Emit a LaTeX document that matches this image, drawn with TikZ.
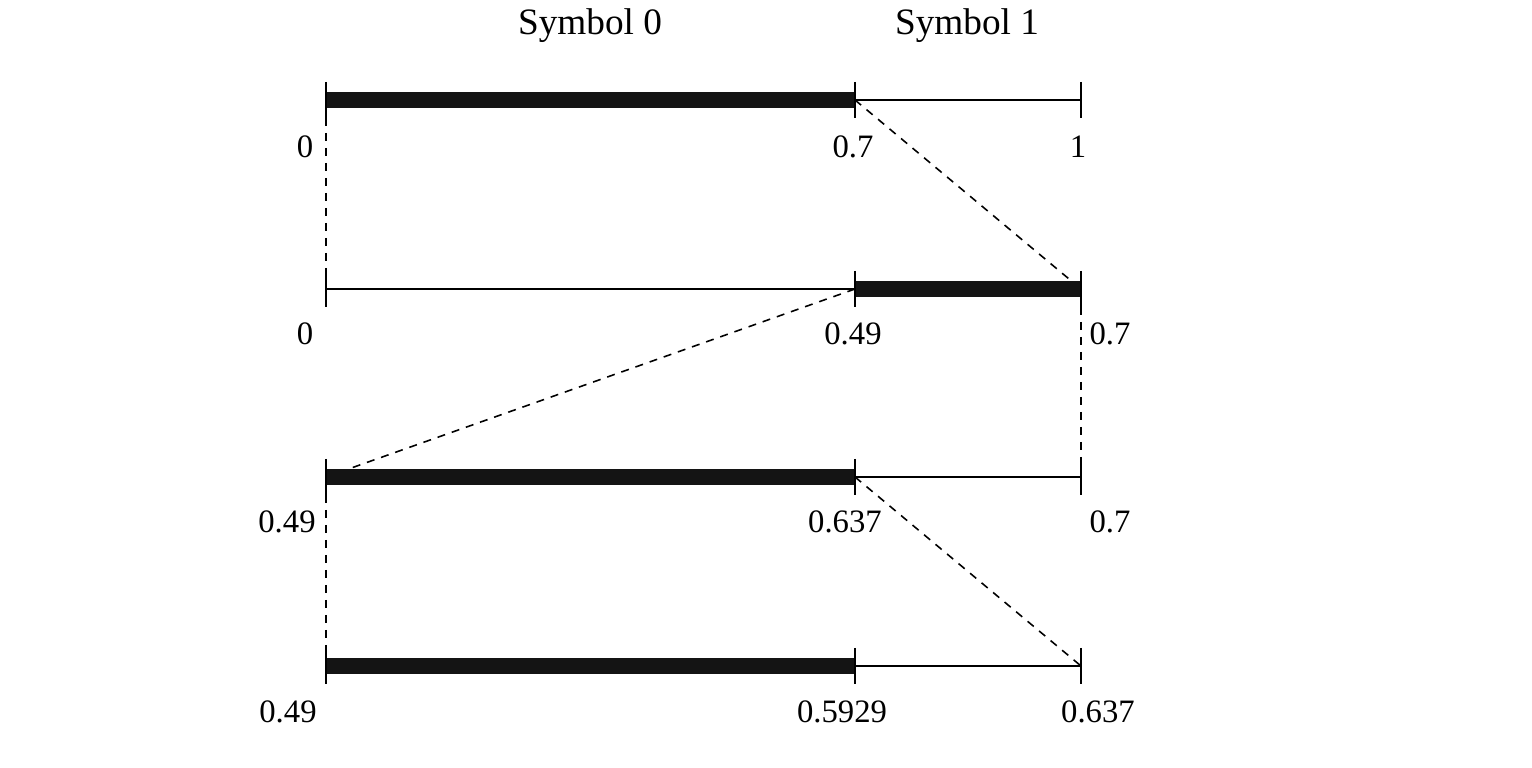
\documentclass[tikz,border=0pt]{standalone}
\usepackage{fontspec}
\setmainfont{Liberation Serif}
\usetikzlibrary{calc}
\tikzset{bar/.style={line width=1.6mm,line cap=butt,black!92}}
\tikzset{rest/.style={line width=0.55pt}}
\tikzset{tick/.style={line width=0.75pt}}
\tikzset{link/.style={line width=0.45pt,dash pattern=on 0.8mm off 0.7mm}}
\tikzset{lbl/.style={anchor=base,inner sep=0pt,font=\fontsize{9.3}{11}\selectfont}}
\tikzset{head/.style={lbl,font=\fontsize{10.6}{12}\selectfont}}

\begin{document}
\begin{tikzpicture}
    \useasboundingbox (0,0) rectangle (15.32,7.68);

    % Interval end points, one row per step
    \foreach \r/\y in {a/6.68,b/4.79,c/2.91,d/1.02} {
      \coordinate (\r L) at (3.26,\y);
      \coordinate (\r M) at (8.55,\y);
      \coordinate (\r R) at (10.81,\y);
    }

    % Dashed links between rows
    \draw[link] ($(aL)+(0,-0.18)$) -- ($(bL)+(0,0.18)$);
    \draw[link] (aM) -- (bR);
    \draw[link] (bM) -- (cL);
    \draw[link] ($(bR)+(0,-0.18)$) -- ($(cR)+(0,0.18)$);
    \draw[link] ($(cL)+(0,-0.18)$) -- ($(dL)+(0,0.18)$);
    \draw[link] (cM) -- (dR);

    % Sub-intervals
    \draw[rest] (aM) -- (aR);
    \draw[rest] (bL) -- (bM);
    \draw[rest] (cM) -- (cR);
    \draw[rest] (dM) -- (dR);
    \draw[bar] (aL) -- (aM);
    \draw[bar] (bM) -- (bR);
    \draw[bar] (cL) -- (cM);
    \draw[bar] (dL) -- (dM);

    % Ticks
    \foreach \r in {a,b,c,d}
      \foreach \p in {L,M,R}
        \draw[tick] ($(\r\p)+(0,0.18)$) -- ($(\r\p)+(0,-0.18)$);

    % Labels
    \node[head] (sym0) at (5.90,7.33) {Symbol 0};
    \node[head] (sym1) at (9.67,7.33) {Symbol 1};

    \node[lbl] (aLt) at (3.05,6.10) {0};
    \node[lbl] (aMt) at (8.53,6.10) {0.7};
    \node[lbl] (aRt) at (10.78,6.10) {1};

    \node[lbl] (bLt) at (3.05,4.23) {0};
    \node[lbl] (bMt) at (8.53,4.23) {0.49};
    \node[lbl] (bRt) at (11.10,4.23) {0.7};

    \node[lbl] (cLt) at (2.87,2.35) {0.49};
    \node[lbl] (cMt) at (8.45,2.35) {0.637};
    \node[lbl] (cRt) at (11.10,2.35) {0.7};

    \node[lbl] (dLt) at (2.88,0.45) {0.49};
    \node[lbl] (dMt) at (8.42,0.45) {0.5929};
    \node[lbl] (dRt) at (10.98,0.45) {0.637};
\end{tikzpicture}
\end{document}
